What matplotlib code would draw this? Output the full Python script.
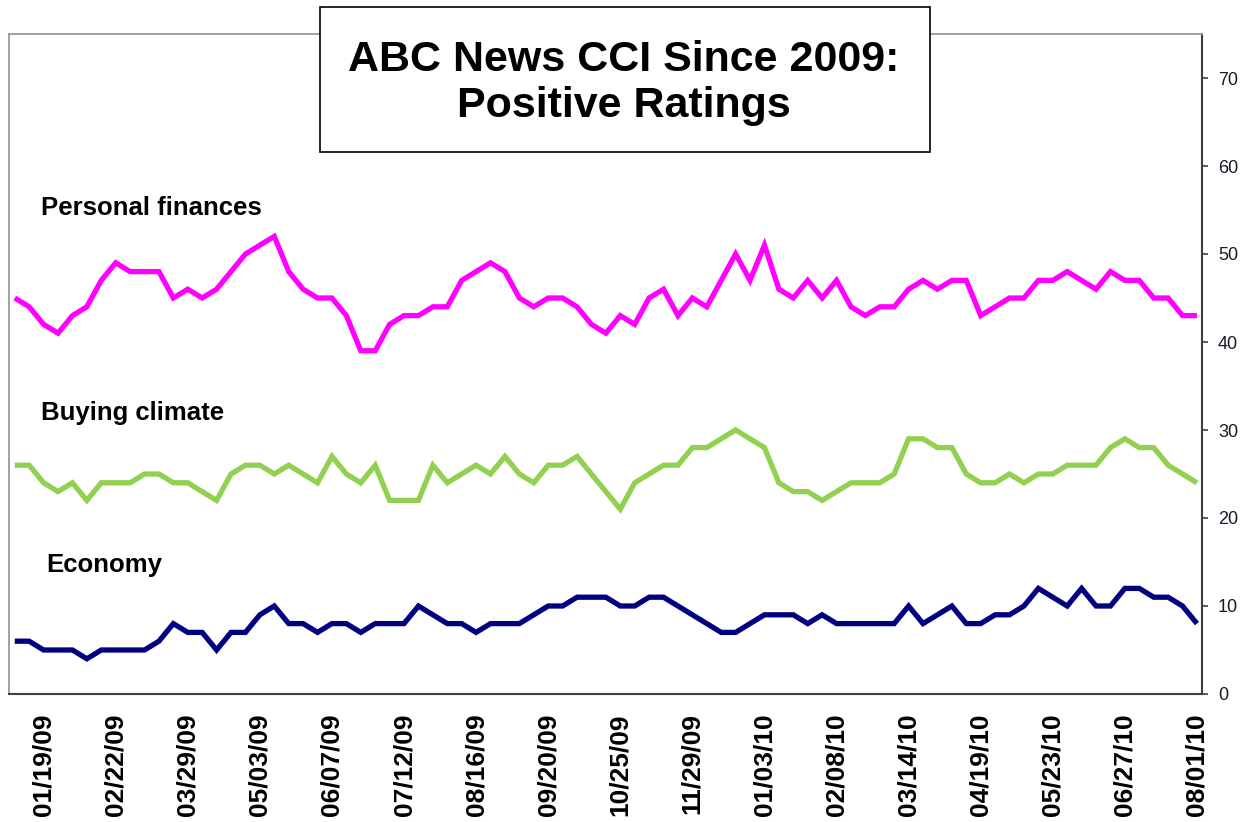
import matplotlib
matplotlib.use("Agg")
import matplotlib.pyplot as plt
from matplotlib.patches import Rectangle

plt.rcParams['font.family'] = ['Liberation Sans', 'DejaVu Sans']

# ---- data (weekly readings, 83 weeks) ----
personal_finances = [45, 44, 42, 41, 43, 44, 47, 49, 48, 48, 48, 45, 46, 45,
                     46, 48, 50, 51, 52, 48, 46, 45, 45, 43, 39, 39, 42, 43,
                     43, 44, 44, 47, 48, 49, 48, 45, 44, 45, 45, 44, 42, 41,
                     43, 42, 45, 46, 43, 45, 44, 47, 50, 47, 51, 46, 45, 47,
                     45, 47, 44, 43, 44, 44, 46, 47, 46, 47, 47, 43, 44, 45,
                     45, 47, 47, 48, 47, 46, 48, 47, 47, 45, 45, 43, 43]
buying_climate = [26, 26, 24, 23, 24, 22, 24, 24, 24, 25, 25, 24, 24, 23,
                  22, 25, 26, 26, 25, 26, 25, 24, 27, 25, 24, 26, 22, 22,
                  22, 26, 24, 25, 26, 25, 27, 25, 24, 26, 26, 27, 25, 23,
                  21, 24, 25, 26, 26, 28, 28, 29, 30, 29, 28, 24, 23, 23,
                  22, 23, 24, 24, 24, 25, 29, 29, 28, 28, 25, 24, 24, 25,
                  24, 25, 25, 26, 26, 26, 28, 29, 28, 28, 26, 25, 24]
economy = [6, 6, 5, 5, 5, 4, 5, 5, 5, 5, 6, 8, 7, 7,
           5, 7, 7, 9, 10, 8, 8, 7, 8, 8, 7, 8, 8, 8,
           10, 9, 8, 8, 7, 8, 8, 8, 9, 10, 10, 11, 11, 11,
           10, 10, 11, 11, 10, 9, 8, 7, 7, 8, 9, 9, 9, 8,
           9, 8, 8, 8, 8, 8, 10, 8, 9, 10, 8, 8, 9, 9,
           10, 12, 11, 10, 12, 10, 10, 12, 12, 11, 11, 10, 8]

tick_labels = ["01/19/09", "02/22/09", "03/29/09", "05/03/09", "06/07/09",
               "07/12/09", "08/16/09", "09/20/09", "10/25/09", "11/29/09",
               "01/03/10", "02/08/10", "03/14/10", "04/19/10", "05/23/10",
               "06/27/10", "08/01/10"]
first_labeled_week = 2
label_every = 5

series_names = ["Personal finances", "Buying climate", "Economy"]
series_colors = ["#FF00FF", "#92D050", "#000080"]

# ---- figure ----
fig = plt.figure(figsize=(12.41, 8.22), dpi=100)
ax = fig.add_axes([9/1241, 1-694/822, 1193/1241, (694-34)/822])

n = len(personal_finances)
x = list(range(n))
for vals, col in zip([personal_finances, buying_climate, economy], series_colors):
    ax.plot(x, vals, color=col, lw=3.8, solid_joinstyle='miter', solid_capstyle='butt')

ax.set_xlim(-0.4, n - 1 + 0.35)
ax.set_ylim(0, 75)

ax.yaxis.tick_right()
ax.set_yticks(range(0, 71, 10))
ax.tick_params(axis='y', direction='out', length=4.5, width=1.2, color='#404040',
               labelsize=13, labelcolor='#1a1a2a', pad=7)
tick_pos = list(range(first_labeled_week, n, label_every))
ax.set_xticks(tick_pos)
ax.set_xticklabels(tick_labels, rotation=90, fontsize=19, fontweight='bold',
                   va='top', ha='center')
ax.tick_params(axis='x', length=0, pad=14)

for side in ['left', 'top']:
    ax.spines[side].set_color('#9a9a9a')
    ax.spines[side].set_linewidth(1.3)
for side in ['right', 'bottom']:
    ax.spines[side].set_color('#404040')
    ax.spines[side].set_linewidth(1.5)

# series labels
ax.text(1.85, 55.25, series_names[0], fontsize=18.5, fontweight='bold', ha='left', va='center')
ax.text(1.85, 31.95, series_names[1], fontsize=18.5, fontweight='bold', ha='left', va='center')
ax.text(2.2, 14.65, series_names[2], fontsize=18.5, fontweight='bold', ha='left', va='center')

# title box
rect = Rectangle((320/1241, 1-152/822), 610/1241, 145/822, transform=fig.transFigure,
                 facecolor='white', edgecolor='black', lw=1.2, zorder=10)
fig.patches.append(rect)
fig.text(624/1241, 1-83/822, "ABC News CCI Since 2009:\nPositive Ratings",
         ha='center', va='center', fontsize=31, fontweight='bold',
         linespacing=1.22, zorder=11)

fig.savefig("out.png", dpi=100)
